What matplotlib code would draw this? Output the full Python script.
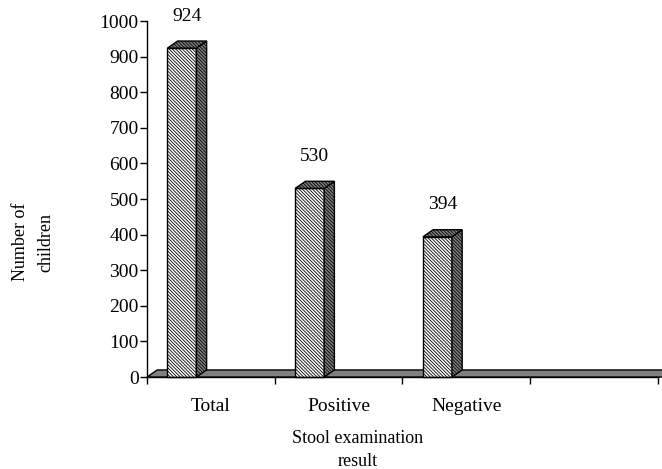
import numpy as np
import matplotlib.pyplot as plt
from matplotlib.patches import Polygon

# stool examination results
groups = ['Total', 'Positive', 'Negative']
counts = [924, 530, 394]
n_slots = 4   # excel left an empty 4th category

plt.rcParams['font.family'] = 'Liberation Serif'
plt.rcParams['hatch.linewidth'] = 0.6

fig = plt.figure(figsize=(6.62, 4.69), dpi=100)
ax = fig.add_axes([0.222, 0.196, 0.772, 0.759])
ax.set_xlim(0, n_slots)
ax.set_ylim(0, 1000)

# fake 3d depth, in data units
dx, dy = 0.08, 20
off, w = 0.16, 0.227
gray = '#808080'
hatch = '\\' * 10

# floor
floor = Polygon([(0, 0), (n_slots + 0.03, 0), (n_slots + 0.03 + dx, dy), (dx, dy)],
                closed=True, facecolor=gray, edgecolor='black', lw=1,
                clip_on=False, zorder=2)
ax.add_patch(floor)

for i, v in enumerate(counts):
    x0 = i + off
    x1 = x0 + w
    front = Polygon([(x0, 0), (x1, 0), (x1, v), (x0, v)], closed=True,
                    facecolor='white', edgecolor='black', lw=1,
                    hatch=hatch, clip_on=False, zorder=3)
    side = Polygon([(x1, 0), (x1 + dx, dy), (x1 + dx, v + dy), (x1, v)], closed=True,
                   facecolor=gray, edgecolor='black', lw=1,
                   hatch=hatch, clip_on=False, zorder=3)
    top = Polygon([(x0, v), (x1, v), (x1 + dx, v + dy), (x0 + dx, v + dy)], closed=True,
                  facecolor=gray, edgecolor='black', lw=1,
                  hatch=hatch, clip_on=False, zorder=3)
    for p in (front, side, top):
        ax.add_patch(p)
    ax.annotate(str(v), (x0 + (w + dx) / 2, v), xytext=(0, 23),
                textcoords='offset points', ha='center', va='center', fontsize=14)

ax.set_yticks(np.arange(0, 1001, 100))
ax.set_xticks(np.arange(len(groups)) + 0.5)
ax.set_xticklabels(groups)
ax.set_xticks(np.arange(n_slots + 1), minor=True)
ax.tick_params(axis='x', which='major', length=0, pad=15, labelsize=14)
ax.tick_params(axis='x', which='minor', length=5, direction='out', width=1)
ax.tick_params(axis='y', length=5, direction='out', width=1, labelsize=14, pad=1)

ax.spines['top'].set_visible(False)
ax.spines['right'].set_visible(False)
ax.spines['left'].set_linewidth(1)
ax.spines['bottom'].set_linewidth(1)
ax.spines['bottom'].set_zorder(4)

fig.text(358 / 662, 1 - 450 / 469, 'Stool examination\nresult', ha='center', va='center',
         fontsize=13, linespacing=1.5)
fig.text(33 / 662, 1 - 242 / 469, 'Number of\nchildren', ha='center', va='center',
         rotation=90, fontsize=13, linespacing=1.65)

fig.savefig('out.png', dpi=100)
